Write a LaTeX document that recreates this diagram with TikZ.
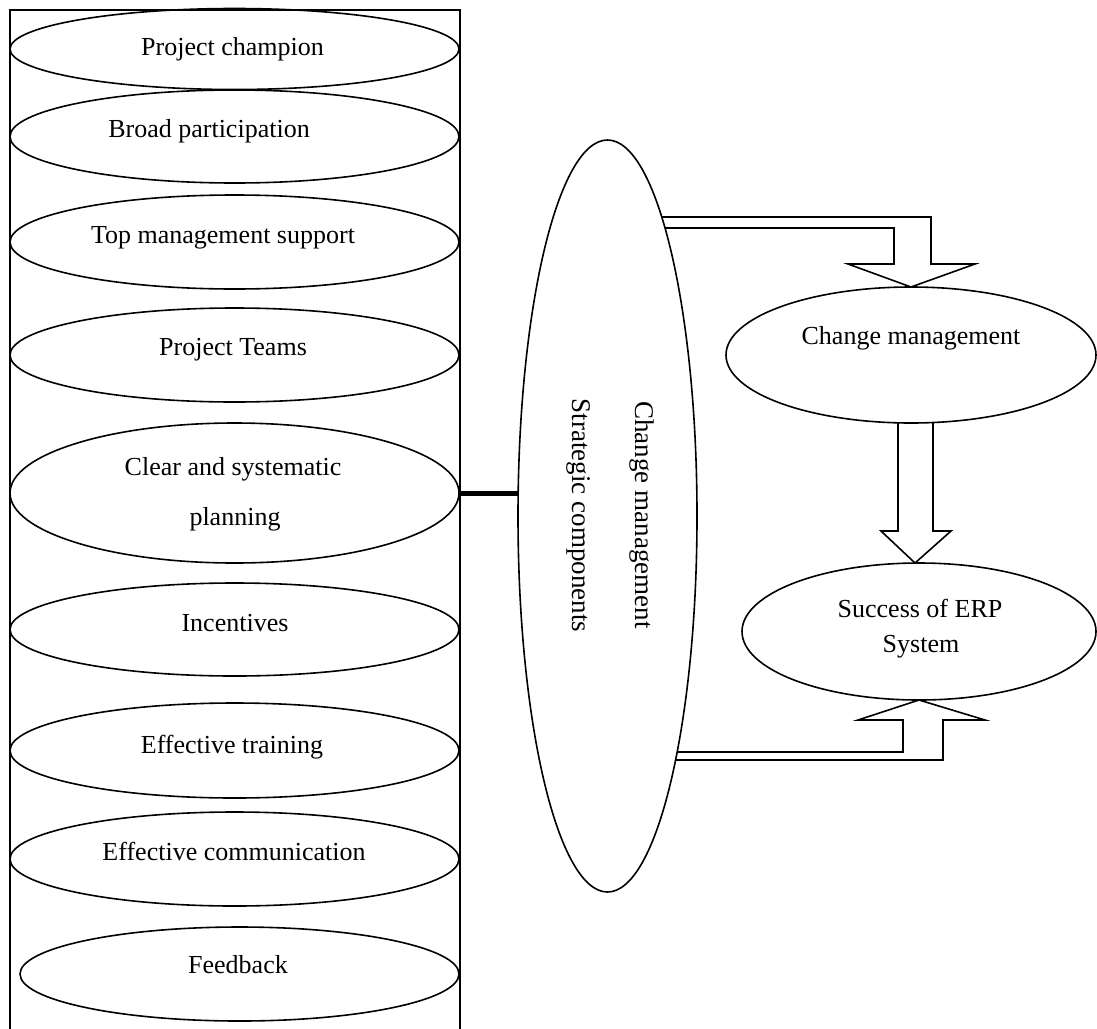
\documentclass[tikz,border=0pt]{standalone}
\usepackage{fontspec}
\setmainfont{Liberation Serif}
\usetikzlibrary{shapes.geometric,calc}
\pgfdeclarelayer{bg}
\pgfsetlayers{bg,main}
\begin{document}
\begin{tikzpicture}[x=1pt,y=-1pt,
  lbl/.style={font=\fontsize{26}{31}\selectfont, anchor=base, inner sep=0pt},
  vlbl/.style={font=\fontsize{27}{32}\selectfont, anchor=base, inner sep=0pt, rotate=-90},
  oval/.style={draw, ellipse, line width=1.6pt, inner sep=0pt, outer sep=0pt},
  lo/.style={oval, minimum width=449pt},
  arr/.style={draw, line width=1.6pt, fill=white, line join=miter},
  link/.style={line width=5pt}]
\useasboundingbox (0,0) rectangle (1097,1028);
\clip (0,0) rectangle (1097,1028);
% container
\node[draw, line width=1.7pt, minimum width=450pt, minimum height=1060pt,
      anchor=north west, inner sep=0pt] (box) at (9,9) {};
% left ellipses
\node[lo, minimum height=81pt] (e1) at (234.5,49) {};
\node[lo, minimum height=93pt] (e2) at (234.5,136.5) {};
\node[lo, minimum height=94pt] (e3) at (234.5,242) {};
\node[lo, minimum height=94pt] (e4) at (234.5,355) {};
\node[lo, minimum height=140pt] (e5) at (234.5,493) {};
\node[lo, minimum height=93pt] (e6) at (234.5,629.5) {};
\node[lo, minimum height=95pt] (e7) at (234.5,750.5) {};
\node[lo, minimum height=94pt] (e8) at (234.5,859) {};
\node[oval, minimum width=439pt, minimum height=94pt] (e9) at (239.5,974) {};
% left labels
\node[lbl] (t1) at (232.5,55) {Project champion};
\node[lbl] (t2) at (209,137) {Broad participation};
\node[lbl] (t3) at (223,243) {Top management support};
\node[lbl] (t4) at (233,355) {Project Teams};
\node[lbl] (t5a) at (233,475) {Clear and systematic};
\node[lbl] (t5b) at (235,525) {planning};
\node[lbl] (t6) at (235,631) {Incentives};
\node[lbl] (t7) at (232,753) {Effective training};
\node[lbl] (t8) at (234,860) {Effective communication};
\node[lbl] (t9) at (238,973) {Feedback};
% central ellipse
\node[oval, fill=white, minimum width=179pt, minimum height=752pt] (cs) at (607.5,516) {};
\node[vlbl] (c1) at (635,515) {Change management};
\node[vlbl] (c2) at (572,515.5) {Strategic components};
% right ellipses
\node[oval, fill=white, minimum width=370pt, minimum height=136pt] (cm) at (911,355) {};
\node[lbl] (cmt) at (911,344) {Change management};
\node[oval, fill=white, minimum width=354pt, minimum height=137pt] (se) at (919,631.5) {};
\node[lbl] (set1) at (920,617) {Success of ERP};
\node[lbl] (set2) at (921,652) {System};
% connector
\draw[link] (e5.east) -- (e5.east -| cs.west);
% block arrows
\coordinate (dl) at ($(se.north)+(-21,0)$);
\coordinate (dr) at ($(se.north)+(14,0)$);
\begin{pgfonlayer}{bg}
\draw[arr] ($(cs.center)+(32.5,-299)$) -- ($(cm.north)+(20,-70)$)
  -- ($(cm.north)+(20,-23)$) -- ($(cm.north)+(64,-23)$) -- (cm.north)
  -- ($(cm.north)+(-63,-23)$) -- ($(cm.north)+(-17,-23)$)
  -- ($(cm.north)+(-17,-59)$) -- ($(cs.center)+(32.5,-288)$) -- cycle;
\draw[arr] (dl |- cm.center) -- ($(se.north)+(-21,-32)$) -- ($(se.north)+(-38,-32)$)
  -- ($(se.north)+(-4,0)$) -- ($(se.north)+(32,-32)$) -- ($(se.north)+(14,-32)$)
  -- (dr |- cm.center);
\draw[arr] ($(cs.center)+(32.5,236)$) -- ($(se.south)+(-16,52)$)
  -- ($(se.south)+(-16,20)$) -- ($(se.south)+(-61,20)$) -- (se.south)
  -- ($(se.south)+(66,20)$) -- ($(se.south)+(24,20)$)
  -- ($(se.south)+(24,60)$) -- ($(cs.center)+(32.5,244)$) -- cycle;
\end{pgfonlayer}
\end{tikzpicture}
\end{document}
